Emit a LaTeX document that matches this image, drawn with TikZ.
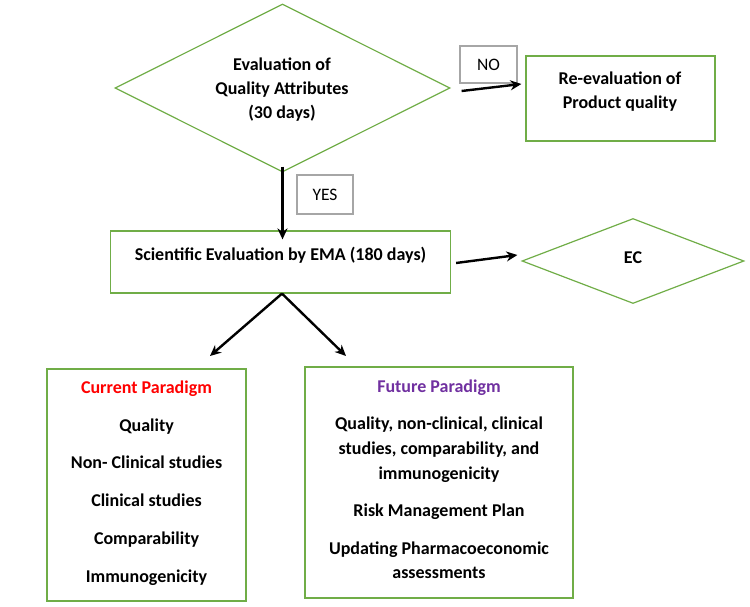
\documentclass[tikz,border=0pt]{standalone}
\usepackage{fontspec}
\setmainfont{Carlito}
\usetikzlibrary{shapes.geometric,arrows.meta}
\definecolor{grn}{HTML}{70AD47}
\definecolor{ppl}{HTML}{7030A0}
\begin{document}
\begin{tikzpicture}[x=1pt,y=-1pt,
  gbox/.style={draw=grn,line width=1.2pt,inner sep=0,rectangle},
  gdia/.style={draw=grn,line width=1.2pt,inner sep=0,diamond},
  lbl/.style={draw=black!35,line width=1.2pt,inner sep=0,font=\fontsize{17.5}{20}\selectfont},
  txt/.style={anchor=base,inner sep=0,font=\fontsize{18}{22}\selectfont\bfseries},
  arr/.style={line width=2.4pt,-{Stealth[length=11pt,width=10pt]}}]
\useasboundingbox (0,0) rectangle (750,607);

% top decision
\node[gdia,minimum width=335pt,minimum height=168pt] (eval) at (282.5,88) {};
\node[txt] (e1) at (282,71) {Evaluation of};
\node[txt] (e2) at (282,95) {Quality Attributes};
\node[txt] (e3) at (282,119) {(30 days)};

% re-evaluation
\node[gbox,minimum width=189pt,minimum height=85pt] (reeval) at (620.5,98.5) {};
\node[txt] (r1) at (620,85) {Re-evaluation of};
\node[txt] (r2) at (620,109) {Product quality};

\node[lbl,minimum width=57pt,minimum height=37pt] (no) at (488.5,64.5) {NO};
\draw[arr] ([shift={(11,3)}]eval.east) -- ([shift={(-4,-14.5)}]reeval.west);

% scientific evaluation
\node[gbox,minimum width=340pt,minimum height=62pt] (sci) at (280.5,262) {};
\node[txt] (s1) at (280.5,260) {Scientific Evaluation by EMA (180 days)};
\node[lbl,minimum width=56pt,minimum height=39pt] (yes) at (325,194.5) {YES};
\draw[arr] ([yshift=6]eval.south) -- ([yshift=-9]sci.north -| eval.south);

% EC
\node[gdia,minimum width=222pt,minimum height=85pt] (ec) at (633,261) {};
\node[txt] (ec1) at (633,263) {EC};
\draw[arr] ([shift={(5,1)}]sci.east) -- ([shift={(-4,-6)}]ec.west);

% fork
\coordinate (lt) at (210,356);
\coordinate (rt) at (346,356);
\draw[arr] ([xshift=1.5]sci.south) -- (lt);
\draw[arr] ([xshift=1.5]sci.south) -- (rt);

% current paradigm
\node[gbox,minimum width=199pt,minimum height=232pt] (cur) at (146.5,485) {};
\node[txt,text=red] (c0) at (146.5,393) {Current Paradigm};
\node[txt] (c1) at (146.5,431) {Quality};
\node[txt] (c2) at (146.5,468) {Non- Clinical studies};
\node[txt] (c3) at (146.5,506) {Clinical studies};
\node[txt] (c4) at (146.5,544) {Comparability};
\node[txt] (c5) at (146.5,582) {Immunogenicity};

% future paradigm
\node[gbox,minimum width=268pt,minimum height=231pt] (fut) at (439,482.5) {};
\node[txt,text=ppl] (f0) at (439,392) {Future Paradigm};
\node[txt] (f1) at (439,429) {Quality, non-clinical, clinical};
\node[txt] (f2) at (439,454) {studies, comparability, and};
\node[txt] (f3) at (439,479) {immunogenicity};
\node[txt] (f4) at (439,516) {Risk Management Plan};
\node[txt] (f5) at (439,554) {Updating Pharmacoeconomic};
\node[txt] (f6) at (439,578) {assessments};
\end{tikzpicture}
\end{document}
